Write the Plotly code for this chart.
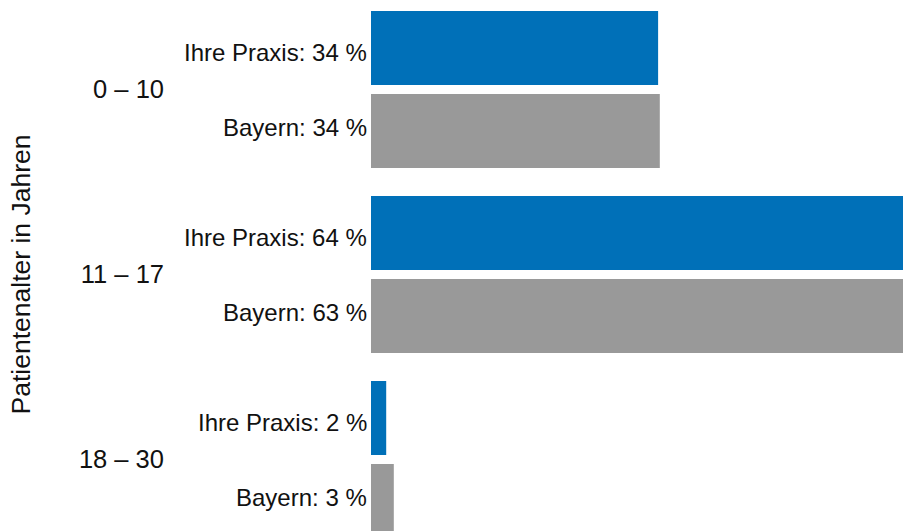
import plotly.graph_objects as go

groups = ["0 – 10", "11 – 17", "18 – 30"]
series_names = ["Ihre Praxis", "Bayern"]
praxis = [34.0, 64.3, 1.8]
bayern = [34.2, 63.4, 2.7]
colors = ["#0070B8", "#999999"]
axis_title = "Patientenalter in Jahren"

FONT = "Liberation Sans, Arial, sans-serif"

fig = go.Figure()
for name, vals, col in zip(series_names, [praxis, bayern], colors):
    fig.add_trace(go.Bar(
        y=groups, x=vals, orientation="h", name=name,
        marker=dict(color=col, line=dict(width=0)),
        hoverinfo="skip",
    ))

annotations = []
for si, (name, vals) in enumerate(zip(series_names, [praxis, bayern])):
    for g, v in zip(groups, vals):
        annotations.append(dict(
            x=0, y=g, xref="x", yref="y",
            text=f"{name}: {round(v)} %",
            showarrow=False, xanchor="right", yanchor="middle",
            xshift=-2, yshift=(37 if si == 0 else -38),
            font=dict(family=FONT, size=24, color="#111111"),
        ))

annotations.append(dict(
    x=-0.658, y=0.483, xref="paper", yref="paper",
    text=axis_title, textangle=-90, showarrow=False,
    xanchor="center", yanchor="middle",
    font=dict(family=FONT, size=26.5, color="#111111"),
))

fig.update_layout(
    width=903, height=531,
    margin=dict(l=371, r=0, t=0, b=0),
    paper_bgcolor="white", plot_bgcolor="white",
    barmode="group", bargap=0.1027, bargroupgap=0.108,
    showlegend=False,
    annotations=annotations,
    xaxis=dict(range=[0, 63], visible=False, showgrid=False, zeroline=False),
    yaxis=dict(
        type="category", categoryorder="array", categoryarray=groups,
        range=[2.3865, -0.4838],
        showgrid=False, zeroline=False, showline=False, ticks="",
        ticklabelstandoff=206,
        tickfont=dict(family=FONT, size=25.5, color="#111111"),
    ),
)

fig.write_html(
    "out.html",
    config={"displayModeBar": False, "staticPlot": True},
    post_script="document.body.style.margin='0';document.body.style.padding='0';",
)
